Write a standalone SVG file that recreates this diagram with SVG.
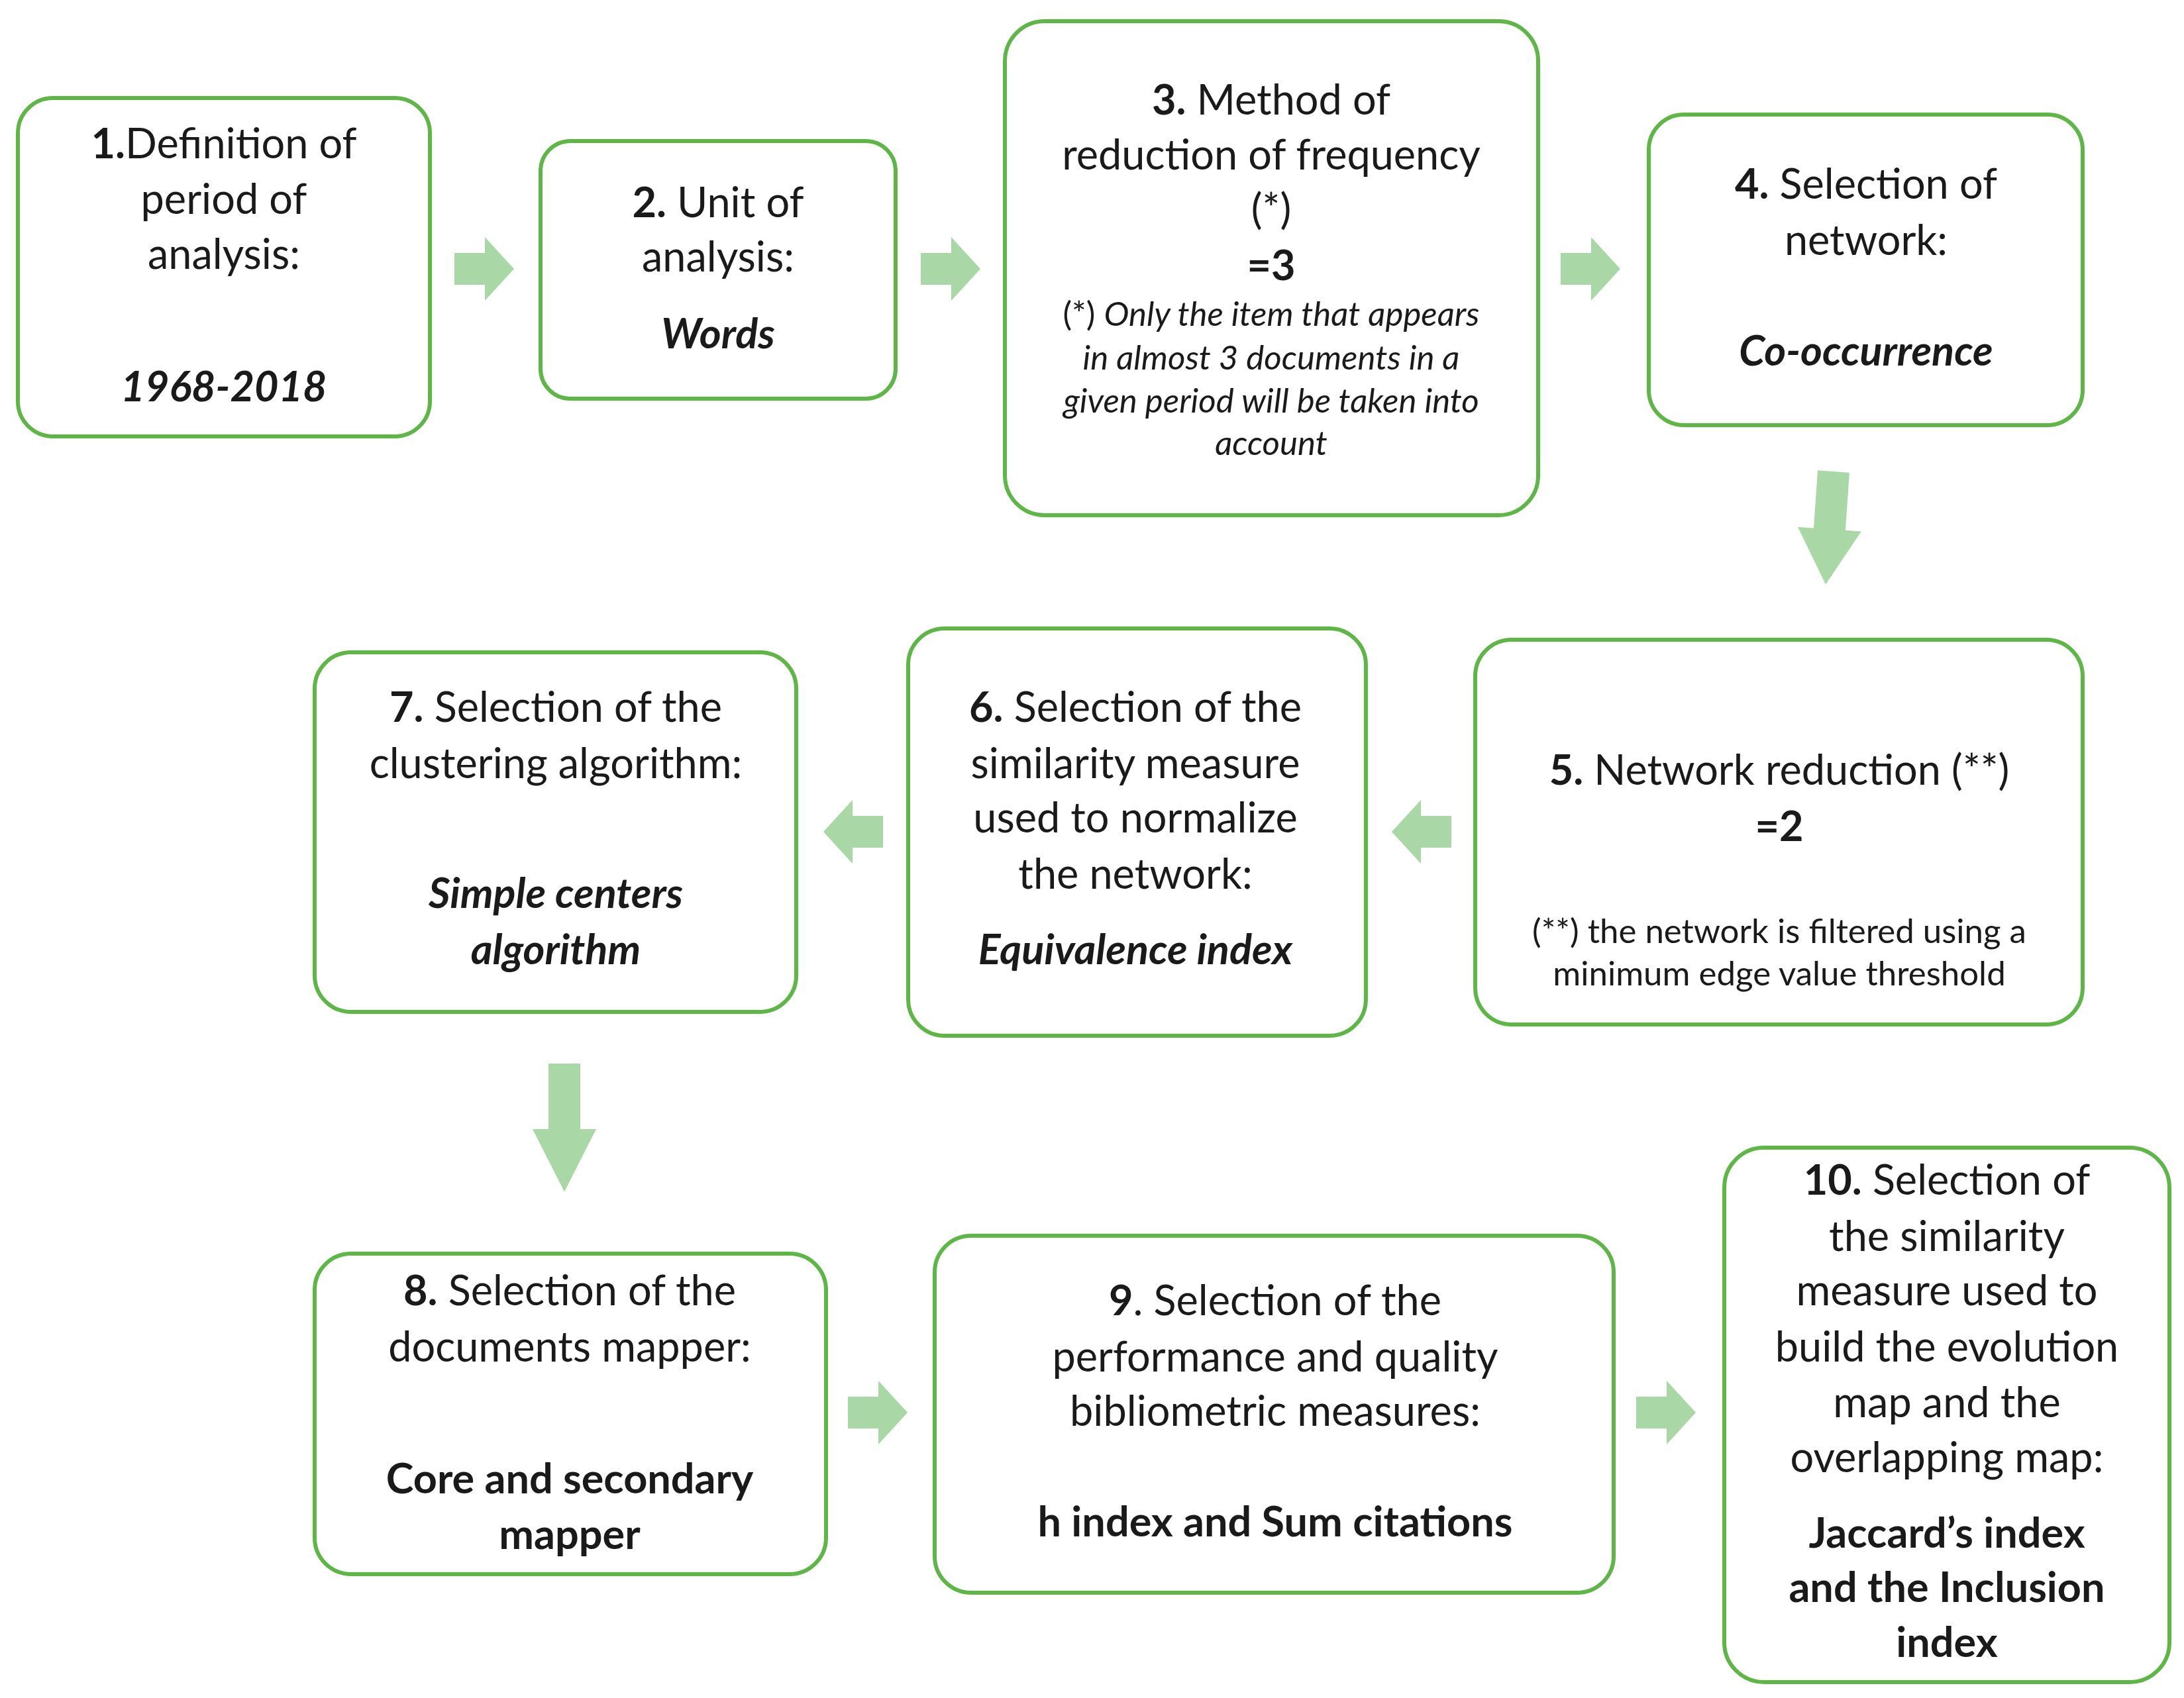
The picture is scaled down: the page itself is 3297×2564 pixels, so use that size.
<svg xmlns="http://www.w3.org/2000/svg" width="3297" height="2564" viewBox="0 0 3297 2564">
<style>
.box{fill:#fff;stroke:#5db646;stroke-width:6}
.t{font-family:Lato,"Open Sans","Liberation Sans",sans-serif;font-size:63px;fill:#1a1a1a;text-anchor:middle}
.s{font-size:51px}
.b{font-weight:bold}
.i{font-style:italic}
.arr{fill:#a9d8a6}
</style>
<defs>
<path id="ar" d="M0,-24 H46 V-48 L90,0 L46,48 V24 H0 Z"/>
</defs>
<rect width="3297" height="2564" fill="#fff"/>
<g id="connectors">
<use href="#ar" class="arr" transform="translate(686,406)"/>
<use href="#ar" class="arr" transform="translate(1390,406)"/>
<use href="#ar" class="arr" transform="translate(2356,406)"/>
<use href="#ar" class="arr" transform="translate(2768,712) rotate(94) scale(1.9,1)"/>
<use href="#ar" class="arr" transform="translate(2191,1256) rotate(180)"/>
<use href="#ar" class="arr" transform="translate(1333,1256) rotate(180)"/>
<use href="#ar" class="arr" transform="translate(852,1606) rotate(90) scale(2.15,1)"/>
<use href="#ar" class="arr" transform="translate(1280,2133)"/>
<use href="#ar" class="arr" transform="translate(2470,2133)"/>
</g>
<g id="n1"><rect class="box" x="27" y="148" width="622" height="511" rx="53"/>
<text class="t"><tspan x="338" y="239"><tspan class="b">1.</tspan>Definition of</tspan><tspan x="338" y="323">period of</tspan><tspan x="338" y="406">analysis:</tspan><tspan x="338" y="606" class="b i">1968-2018</tspan></text></g>
<g id="n2"><rect class="box" x="816" y="213" width="536" height="389" rx="45"/>
<text class="t"><tspan x="1084" y="328"><tspan class="b">2.</tspan> Unit of</tspan><tspan x="1084" y="410">analysis:</tspan><tspan x="1084" y="526" class="b i">Words</tspan></text></g>
<g id="n3"><rect class="box" x="1517" y="32" width="805" height="746" rx="60"/>
<text class="t"><tspan x="1919" y="173"><tspan class="b">3.</tspan> Method of</tspan><tspan x="1919" y="256">reduction of frequency</tspan><tspan x="1919" y="338">(*)</tspan><tspan x="1919" y="423" class="b">=3</tspan></text>
<text class="t s"><tspan x="1919" y="492">(*) <tspan class="i">Only the item that appears</tspan></tspan><tspan x="1919" y="558" class="i">in almost 3 documents in a</tspan><tspan x="1919" y="623" class="i">given period will be taken into</tspan><tspan x="1919" y="687" class="i">account</tspan></text></g>
<g id="n4"><rect class="box" x="2489" y="173" width="655" height="469" rx="53"/>
<text class="t"><tspan x="2817" y="300"><tspan class="b">4.</tspan> Selection of</tspan><tspan x="2817" y="385">network:</tspan><tspan x="2817" y="552" class="b i">Co-occurrence</tspan></text></g>
<g id="n5"><rect class="box" x="2227" y="966" width="917" height="581" rx="55"/>
<text class="t"><tspan x="2686" y="1185"><tspan class="b">5.</tspan> Network reduction (**)</tspan><tspan x="2686" y="1270" class="b">=2</tspan></text>
<text class="t s"><tspan x="2686" y="1424">(**) the network is filtered using a</tspan><tspan x="2686" y="1488">minimum edge value threshold</tspan></text></g>
<g id="n6"><rect class="box" x="1371" y="949" width="691" height="615" rx="55"/>
<text class="t"><tspan x="1714" y="1090"><tspan class="b">6.</tspan> Selection of the</tspan><tspan x="1714" y="1175">similarity measure</tspan><tspan x="1714" y="1257">used to normalize</tspan><tspan x="1714" y="1342">the network:</tspan><tspan x="1714" y="1456" class="b i">Equivalence index</tspan></text></g>
<g id="n7"><rect class="box" x="475" y="985" width="727" height="543" rx="55"/>
<text class="t"><tspan x="839" y="1090"><tspan class="b">7.</tspan> Selection of the</tspan><tspan x="839" y="1175">clustering algorithm:</tspan><tspan x="839" y="1371" class="b i">Simple centers</tspan><tspan x="839" y="1456" class="b i">algorithm</tspan></text></g>
<g id="n8"><rect class="box" x="475" y="1893" width="772" height="484" rx="55"/>
<text class="t"><tspan x="860" y="1971"><tspan class="b">8.</tspan> Selection of the</tspan><tspan x="860" y="2056">documents mapper:</tspan><tspan x="860" y="2255" class="b">Core and secondary</tspan><tspan x="860" y="2339" class="b">mapper</tspan></text></g>
<g id="n9"><rect class="box" x="1411" y="1866" width="1025" height="539" rx="55"/>
<text class="t"><tspan x="1925" y="1986"><tspan class="b">9</tspan>. Selection of the</tspan><tspan x="1925" y="2071">performance and quality</tspan><tspan x="1925" y="2153">bibliometric measures:</tspan><tspan x="1925" y="2320" class="b">h index and Sum citations</tspan></text></g>
<g id="n10"><rect class="box" x="2603" y="1733" width="672" height="807" rx="60"/>
<text class="t"><tspan x="2939" y="1804"><tspan class="b">10.</tspan> Selection of</tspan><tspan x="2939" y="1889">the similarity</tspan><tspan x="2939" y="1971">measure used to</tspan><tspan x="2939" y="2056">build the evolution</tspan><tspan x="2939" y="2140">map and the</tspan><tspan x="2939" y="2223">overlapping map:</tspan><tspan x="2939" y="2337" class="b">Jaccard’s index</tspan><tspan x="2939" y="2419" class="b">and the Inclusion</tspan><tspan x="2939" y="2502" class="b">index</tspan></text></g>
</svg>
